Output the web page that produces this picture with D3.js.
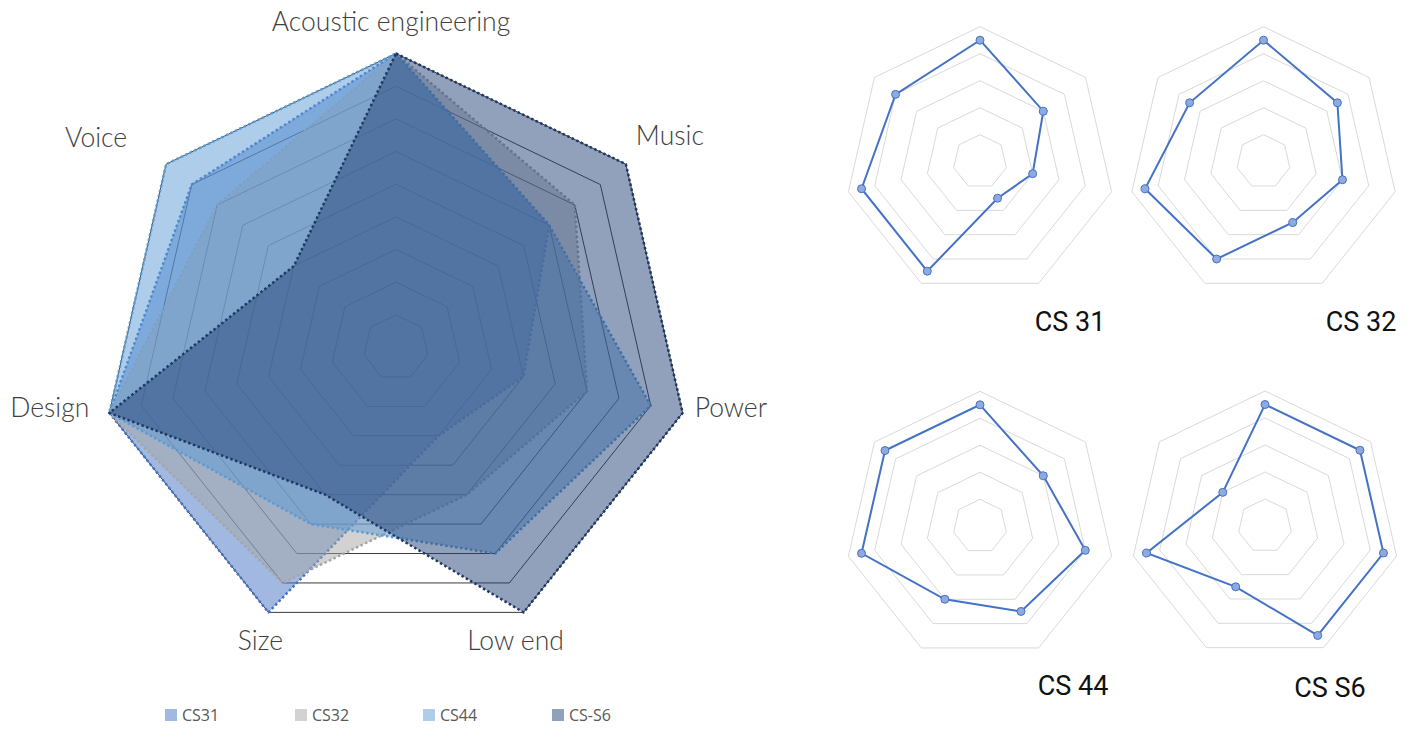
<!DOCTYPE html>
<html>
<head>
<meta charset="utf-8">
<script src="https://cdnjs.cloudflare.com/ajax/libs/d3/7.8.5/d3.min.js"></script>
<style>
  body { margin: 0; background: #fff; }
  svg { display: block; }
</style>
</head>
<body>
<script>
// axes, clockwise from top
var axes = ["Acoustic engineering", "Music", "Power", "Low end", "Size", "Design", "Voice"];
var seriesNames = ["CS31", "CS32", "CS44", "CS-S6"];
var smallTitles = ["CS 31", "CS 32", "CS 44", "CS S6"];

var cs31 = [9, 6, 4, 3, 9, 9, 8];
var cs32 = [9, 7, 6, 5, 8, 9, 7];
var cs44 = [9, 6, 8, 7, 6, 9, 9];
var csS6 = [9, 9, 9, 9, 5, 9, 4];

var mainMax = 9;
var mainRings = [1, 2, 3, 4, 5, 6, 7, 8, 9];
var smallMax = 10;
var smallRings = [2, 4, 6, 8, 10];

var allSeries = [cs31, cs32, cs44, csS6];

var w = 1413, h = 729;
var svg = d3.select("body").append("svg")
  .attr("width", w)
  .attr("height", h);

var angle = d3.scaleLinear()
  .domain([0, axes.length])
  .range([-Math.PI / 2, 1.5 * Math.PI]);

function pt(i, r) {
  var a = angle(i);
  return [r * Math.cos(a), r * Math.sin(a)];
}

function ringPath(r) {
  return axes.map(function(a, i) { return pt(i, r); });
}

var line = d3.line().curve(d3.curveLinearClosed);

// ---------- main radar ----------
var fills = ["#4472C4", "#A5A5A5", "#5B9BD5", "#264478"];
var strokes = ["#4472C4", "#A5A5A5", "#5B9BD5", "#203864"];

var main = svg.append("g").attr("transform", "translate(396,347.5)");
var rMain = d3.scaleLinear().domain([0, mainMax]).range([0, 294]);

main.selectAll(".ring")
  .data(mainRings)
  .enter().append("path")
  .attr("class", "ring")
  .attr("d", function(d) { return line(ringPath(rMain(d))); })
  .attr("fill", "none")
  .attr("stroke", "#3a3a3a")
  .attr("stroke-width", 1);

main.selectAll(".area")
  .data(allSeries)
  .enter().append("path")
  .attr("class", "area")
  .attr("d", function(d) {
    return line(d.map(function(v, i) { return pt(i, rMain(v)); }));
  })
  .attr("fill", function(d, i) { return fills[i]; })
  .attr("fill-opacity", 0.5)
  .attr("stroke", function(d, i) { return strokes[i]; })
  .attr("stroke-width", 2.5)
  .attr("stroke-dasharray", "2.5 2.5")
  .attr("stroke-linejoin", "round");

// axis labels
var labelPos = [
  { dx: -5, dy: -32, anchor: "middle" },
  { dx: 10, dy: -28, anchor: "start" },
  { dx: 12, dy: -5, anchor: "start" },
  { dx: -8, dy: 28, anchor: "middle" },
  { dx: -8, dy: 28, anchor: "middle" },
  { dx: -20, dy: -5, anchor: "end" },
  { dx: -39, dy: -26, anchor: "end" }
];

main.selectAll(".label")
  .data(axes)
  .enter().append("text")
  .attr("class", "label")
  .attr("x", function(d, i) { return pt(i, rMain(mainMax))[0] + labelPos[i].dx; })
  .attr("y", function(d, i) { return pt(i, rMain(mainMax))[1] + labelPos[i].dy; })
  .attr("dy", "0.35em")
  .attr("text-anchor", function(d, i) { return labelPos[i].anchor; })
  .style("font-family", "Lato, 'Open Sans', sans-serif")
  .style("font-weight", 300)
  .style("font-size", "26.5px")
  .style("fill", "#404040")
  .text(function(d) { return d; });

// legend
var legendX = [165, 295, 423, 552];
var swatch = ["#A1B8E1", "#D2D2D2", "#ADCDEA", "#92A1BB"];
var legend = svg.selectAll(".leg")
  .data(seriesNames)
  .enter().append("g")
  .attr("class", "leg")
  .attr("transform", function(d, i) { return "translate(" + legendX[i] + ",709)"; });

legend.append("rect")
  .attr("width", 12)
  .attr("height", 12)
  .attr("fill", function(d, i) { return swatch[i]; });

legend.append("text")
  .attr("x", 17)
  .attr("y", 6)
  .attr("dy", "0.35em")
  .style("font-family", "'Open Sans', 'Liberation Sans', sans-serif")
  .style("font-size", "16px")
  .style("fill", "#595959")
  .text(function(d) { return d; });

// ---------- small multiples ----------
var smallCenters = [[980, 161.7], [1263.5, 161.7], [980, 526.3], [1265, 526]];
var titlePos = [[1070, 322], [1361, 322], [1073, 686], [1330, 688]];
var rSmall = d3.scaleLinear().domain([0, smallMax]).range([0, 135]);

allSeries.forEach(function(data, k) {
  var g = svg.append("g")
    .attr("transform", "translate(" + smallCenters[k][0] + "," + smallCenters[k][1] + ")");

  g.selectAll(".sring")
    .data(smallRings)
    .enter().append("path")
    .attr("d", function(d) { return line(ringPath(rSmall(d))); })
    .attr("fill", "none")
    .attr("stroke", "#D9D9D9")
    .attr("stroke-width", 1);

  var pts = data.map(function(v, i) { return pt(i, rSmall(v)); });

  g.append("path")
    .attr("d", line(pts))
    .attr("fill", "none")
    .attr("stroke", "#4472C4")
    .attr("stroke-width", 2);

  g.selectAll(".dot")
    .data(pts)
    .enter().append("circle")
    .attr("cx", function(d) { return d[0]; })
    .attr("cy", function(d) { return d[1]; })
    .attr("r", 4)
    .attr("fill", "#8FAADC")
    .attr("stroke", "#4472C4")
    .attr("stroke-width", 1);

  svg.append("text")
    .attr("x", titlePos[k][0])
    .attr("y", titlePos[k][1])
    .attr("dy", "0.35em")
    .attr("text-anchor", "middle")
    .style("font-family", "Roboto, 'Open Sans', sans-serif")
    .style("font-weight", 400)
    .style("font-size", "27px")
    .style("fill", "#111")
    .text(smallTitles[k]);
});
</script>
</body>
</html>
